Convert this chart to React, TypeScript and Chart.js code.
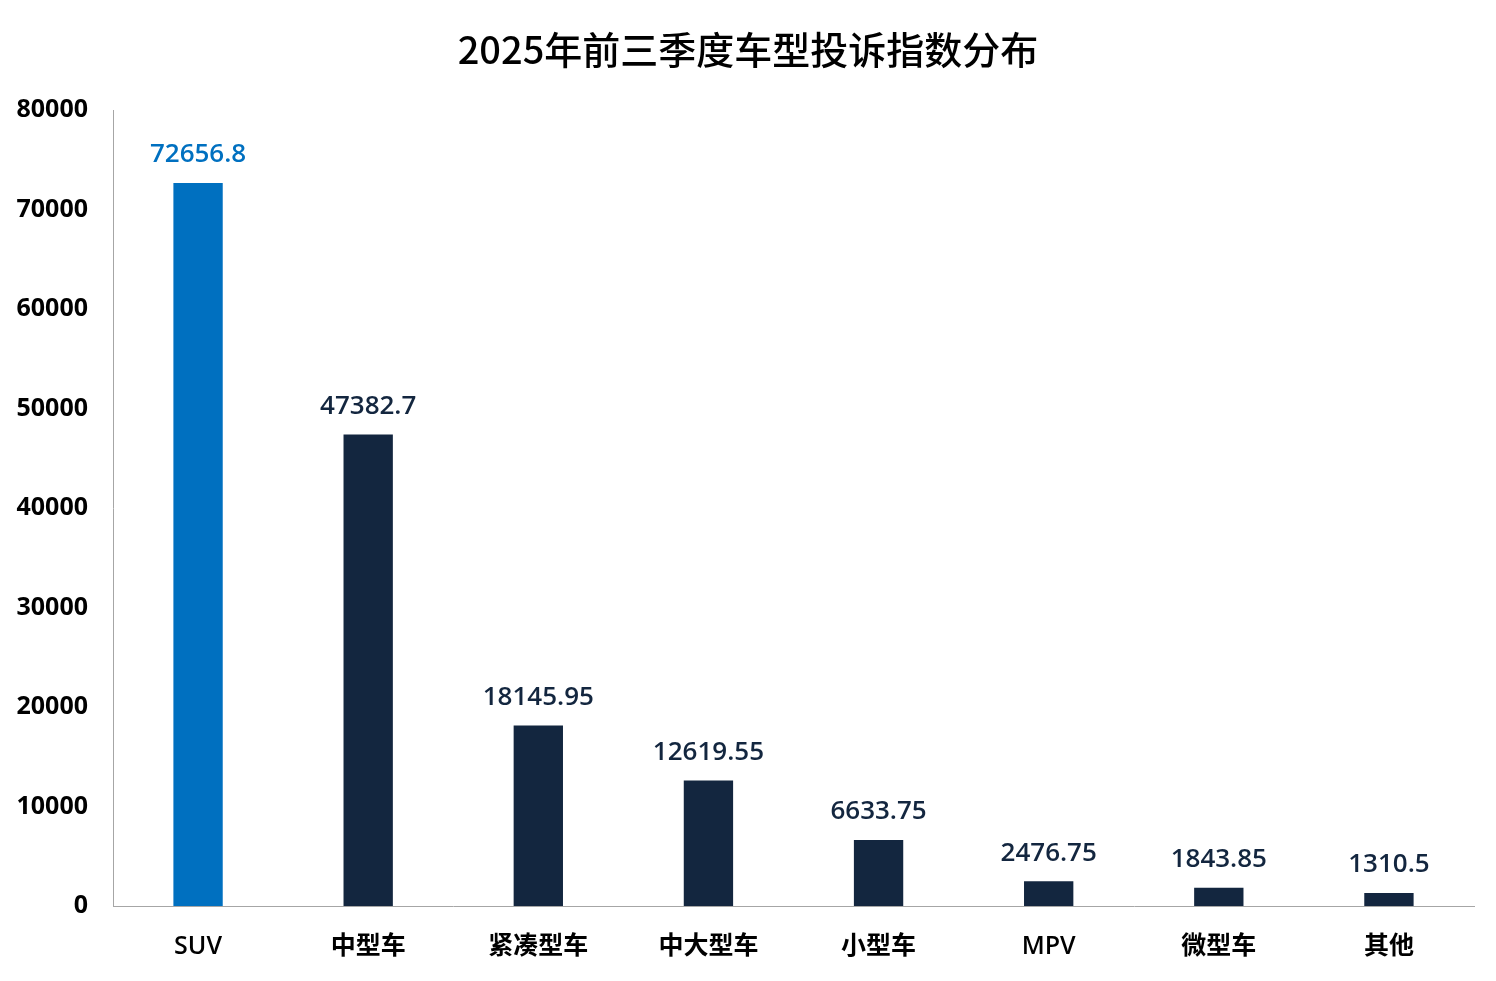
import React, { useEffect, useRef } from "react";
import { Chart, registerables } from "chart.js";

Chart.register(...registerables);

const TITLE = "2025年前三季度车型投诉指数分布";
const categories = ["SUV", "中型车", "紧凑型车", "中大型车", "小型车", "MPV", "微型车", "其他"];
const values = [72656.8, 47382.7, 18145.95, 12619.55, 6633.75, 2476.75, 1843.85, 1310.5];
const valueLabels = ["72656.8", "47382.7", "18145.95", "12619.55", "6633.75", "2476.75", "1843.85", "1310.5"];
const yTicks = [0, 10000, 20000, 30000, 40000, 50000, 60000, 70000, 80000];

const HIGHLIGHT = "#0070C0";
const NAVY = "#13263F";
const FONT = '"Open Sans", "Noto Sans CJK SC", sans-serif';

export default function App() {
  const ref = useRef<HTMLCanvasElement | null>(null);
  useEffect(() => {
    document.body.style.margin = "0";
    const canvas = ref.current!;
    const colors = categories.map((_, i) => (i === 0 ? HIGHLIGHT : NAVY));
    const labelPlugin = {
      id: "labels",
      afterDatasetsDraw(chart: any) {
        const ctx = chart.ctx;
        const meta = chart.getDatasetMeta(0);
        ctx.save();
        ctx.font = `600 26px ${FONT}`;
        ctx.textAlign = "center";
        ctx.textBaseline = "middle";
        meta.data.forEach((bar: any, i: number) => {
          ctx.fillStyle = i === 0 ? HIGHLIGHT : NAVY;
          ctx.fillText(valueLabels[i], bar.x, bar.y - 28);
        });
        // title
        ctx.font = `500 38px "Noto Sans CJK SC", ${FONT}`;
        ctx.fillStyle = "#000";
        ctx.textBaseline = "middle";
        ctx.fillText(TITLE, 748, 50);
        ctx.restore();
      },
    };
    const chart = new Chart(canvas, {
      type: "bar",
      data: {
        labels: categories,
        datasets: [
          {
            data: values,
            backgroundColor: colors,
            barPercentage: 0.58,
            categoryPercentage: 0.5,
          },
        ],
      },
      options: {
        animation: false,
        responsive: false,
        layout: { padding: { top: 110, right: 22, left: 0, bottom: 0 } },
        plugins: { legend: { display: false }, tooltip: { enabled: false }, title: { display: false } },
        scales: {
          x: {
            offset: true,
            grid: { display: false, drawTicks: false },
            border: { display: true, color: "#A6A6A6", width: 1 },
            ticks: {
              color: "#000",
              font: { family: FONT, size: 25, weight: "600" },
              padding: 26,
              maxRotation: 0,
            },
            afterFit: (s: any) => {
              s.height = 75;
            },
          },
          y: {
            min: 0,
            max: 80000,
            afterBuildTicks: (s: any) => {
              s.ticks = yTicks.map((v) => ({ value: v }));
            },
            grid: { display: false, drawTicks: false },
            border: { display: true, color: "#A6A6A6", width: 1 },
            ticks: {
              color: "#000",
              font: { family: FONT, size: 25, weight: "700" },
              padding: 25,
              callback: (v: any) => String(v),
            },
            afterFit: (s: any) => {
              s.width = 113;
            },
          },
        },
      },
      plugins: [labelPlugin],
    });
    return () => chart.destroy();
  }, []);
  return (
    <div style={{ position: "absolute", left: 0, top: 0, width: 1496, height: 981, background: "#fff" }}>
      <canvas ref={ref} width={1496} height={981} style={{ width: 1496, height: 981 }} />
    </div>
  );
}
